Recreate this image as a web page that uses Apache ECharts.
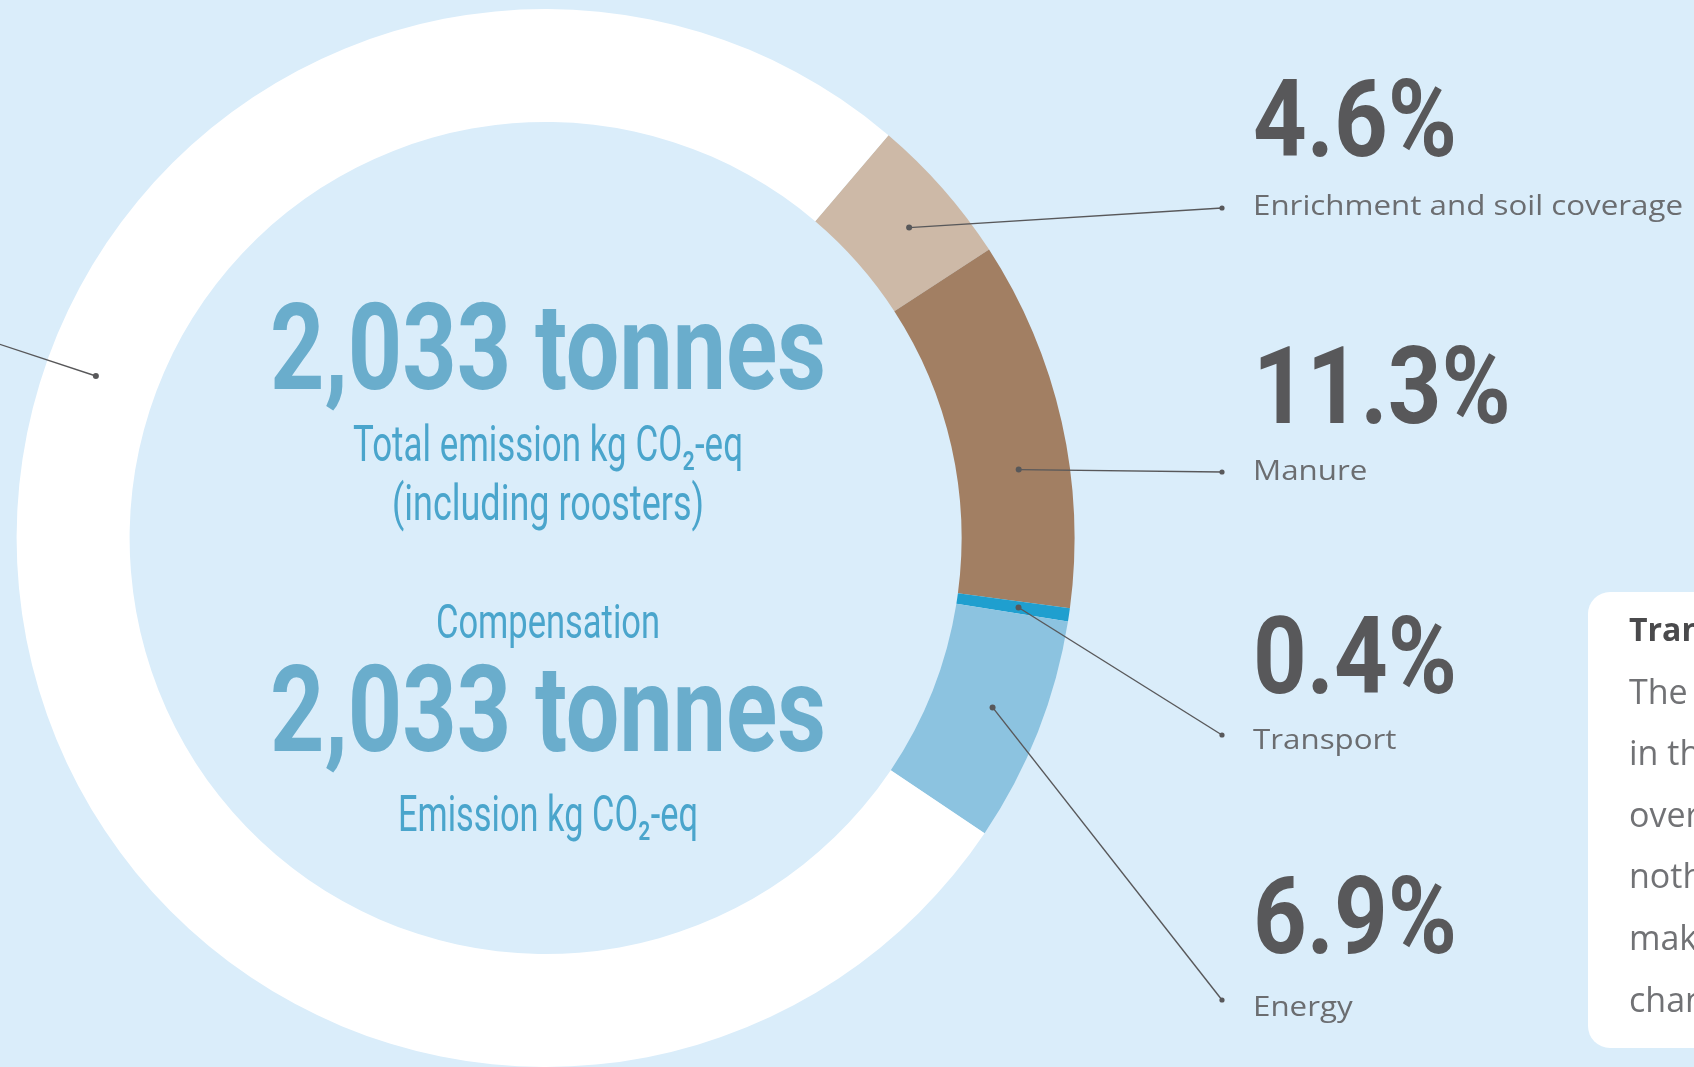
<!DOCTYPE html>
<html>
<head>
<meta charset="utf-8">
<script src="https://cdn.jsdelivr.net/npm/echarts@6/dist/echarts.min.js"></script>
<style>
html,body{margin:0;padding:0;background:#daedfa;overflow:hidden;}
#c{width:1694px;height:1067px;}
</style>
</head>
<body>
<div id="c"></div>
<script>
// ---- data ----
const categories = ['Enrichment and soil coverage', 'Manure', 'Transport', 'Energy', 'Other'];
const shares = [4.6, 11.3, 0.4, 6.9, 76.8];
const sliceColors = ['#cdb9a7', '#a27f63', '#1f9fcf', '#8cc3e0', '#ffffff'];
const totalLabel = '2,033 tonnes';
const totalCaption = ['Total emission kg CO\u2082-eq', '(including roosters)'];
const compTitle = 'Compensation';
const compLabel = '2,033 tonnes';
const compCaption = 'Emission kg CO\u2082-eq';
const noteTitle = 'Transport';
const noteLines = ['The transport', 'in the total', 'overall', 'nothing', 'make', 'change'];

// ---- text measuring (condensed look via horizontal scaling) ----
const mctx = document.createElement('canvas').getContext('2d');
function textW(t, weight, size, family) {
  mctx.font = weight + ' ' + size + 'px ' + family;
  return mctx.measureText(t).width;
}
const condFamily = 'Roboto, "Liberation Sans", sans-serif';
const bodyFamily = '"Open Sans", "Noto Sans", sans-serif';

// ---- layout ----
const cx = 545.6, cy = 538, rIn = 416, rOut = 529, rDot = 478;
const startClock = 40.4;                // degrees clockwise from 12 o'clock
const dotFrac = [0.55, 0.61, 0.5, 0.47, 0.6];
const anchorX = 1222;
const anchorY = [208, 472, 735, 1000];
const pctCenterY = [121.5, 389, 659, 919];
const nameCenterY = [205, 470, 739.5, 1006.5];
const labelX = 1253;
const lineColor = '#58585a';
const pctSize = 107, nameSize = 28;
const pctScale = 204 / textW(shares[0].toFixed(1) + '%', 'bold', pctSize, condFamily);
const nameScale = 430 / textW(categories[0], 'normal', nameSize, bodyFamily);

const total = shares.reduce((a, b) => a + b, 0);
function pointAt(clockDeg, r) {
  const a = clockDeg * Math.PI / 180;
  return [cx + r * Math.sin(a), cy - r * Math.cos(a)];
}
const graphics = [];
let acc = startClock;
shares.forEach((v, i) => {
  const span = v / total * 360;
  const p = pointAt(acc + span * dotFrac[i], rDot);
  acc += span;
  let end;
  if (i < 4) end = [anchorX, anchorY[i]];
  else { const slope = 0.33; end = [-20, p[1] - (p[0] + 20) * slope]; }
  graphics.push({ type: 'polyline', silent: true, z: 10,
    shape: { points: [p, end] }, style: { stroke: lineColor, lineWidth: 1.4, fill: null } });
  graphics.push({ type: 'circle', silent: true, z: 11, shape: { cx: p[0], cy: p[1], r: 3 }, style: { fill: lineColor } });
  graphics.push({ type: 'circle', silent: true, z: 11, shape: { cx: end[0], cy: end[1], r: 2.6 }, style: { fill: lineColor } });
  if (i < 4) {
    graphics.push({ type: 'text', silent: true, z: 12, x: labelX, y: pctCenterY[i] + 0.07 * pctSize, scaleX: pctScale,
      style: { text: v.toFixed(1) + '%', fontFamily: condFamily, fontWeight: 'bold', fontSize: pctSize,
        fill: '#58585a', align: 'left', verticalAlign: 'middle' } });
    graphics.push({ type: 'text', silent: true, z: 12, x: labelX, y: nameCenterY[i] + 0.07 * nameSize, scaleX: nameScale,
      style: { text: categories[i], fontFamily: bodyFamily, fontSize: nameSize,
        fill: '#6b6d70', align: 'left', verticalAlign: 'middle' } });
  }
});

function centerText(text, capCenterY, size, weight, color, targetW) {
  const sc = targetW / textW(text, weight, size, condFamily);
  return { type: 'text', silent: true, z: 5, x: 548, y: capCenterY + 0.07 * size, scaleX: sc,
    style: { text: text, fontFamily: condFamily, fontSize: size, fontWeight: weight, fill: color,
      align: 'center', verticalAlign: 'middle' } };
}
const bigBlue = '#6aadcc', smallBlue = '#4aa5cc';
graphics.push(centerText(totalLabel, 351, 120, 'bold', bigBlue, 556));
graphics.push(centerText(totalCaption[0], 445, 50, 'normal', smallBlue, 390));
graphics.push(centerText(totalCaption[1], 504, 50, 'normal', smallBlue, 312));
graphics.push(centerText(compTitle, 623, 48, 'normal', smallBlue, 224));
graphics.push(centerText(compLabel, 713, 120, 'bold', bigBlue, 556));
graphics.push(centerText(compCaption, 815, 50, 'normal', smallBlue, 300));

// note box (cropped at the right edge)
graphics.push({ type: 'rect', silent: true, z: 1, shape: { x: 1588, y: 592, width: 200, height: 456, r: 22 }, style: { fill: '#ffffff' } });
graphics.push({ type: 'text', silent: true, z: 2, x: 1629, y: 632,
  style: { text: noteTitle, fontFamily: bodyFamily, fontSize: 32, fontWeight: 'bold', fill: '#4a4a4c', align: 'left', verticalAlign: 'middle' } });
noteLines.forEach((t, k) => {
  graphics.push({ type: 'text', silent: true, z: 2, x: 1629, y: 694 + k * 61.6,
    style: { text: t, fontFamily: bodyFamily, fontSize: 34, fill: '#717275', align: 'left', verticalAlign: 'middle' } });
});

const chart = echarts.init(document.getElementById('c'), null, { renderer: 'canvas' });
chart.setOption({
  backgroundColor: '#daedfa',
  animation: false,
  graphic: graphics,
  series: [{
    type: 'pie',
    center: [cx, cy],
    radius: [rIn, rOut],
    startAngle: 90 - startClock,
    clockwise: true,
    silent: true,
    label: { show: false },
    labelLine: { show: false },
    data: categories.map((name, i) => ({
      name: name, value: shares[i],
      itemStyle: { color: sliceColors[i] }
    }))
  }]
});
</script>
</body>
</html>
